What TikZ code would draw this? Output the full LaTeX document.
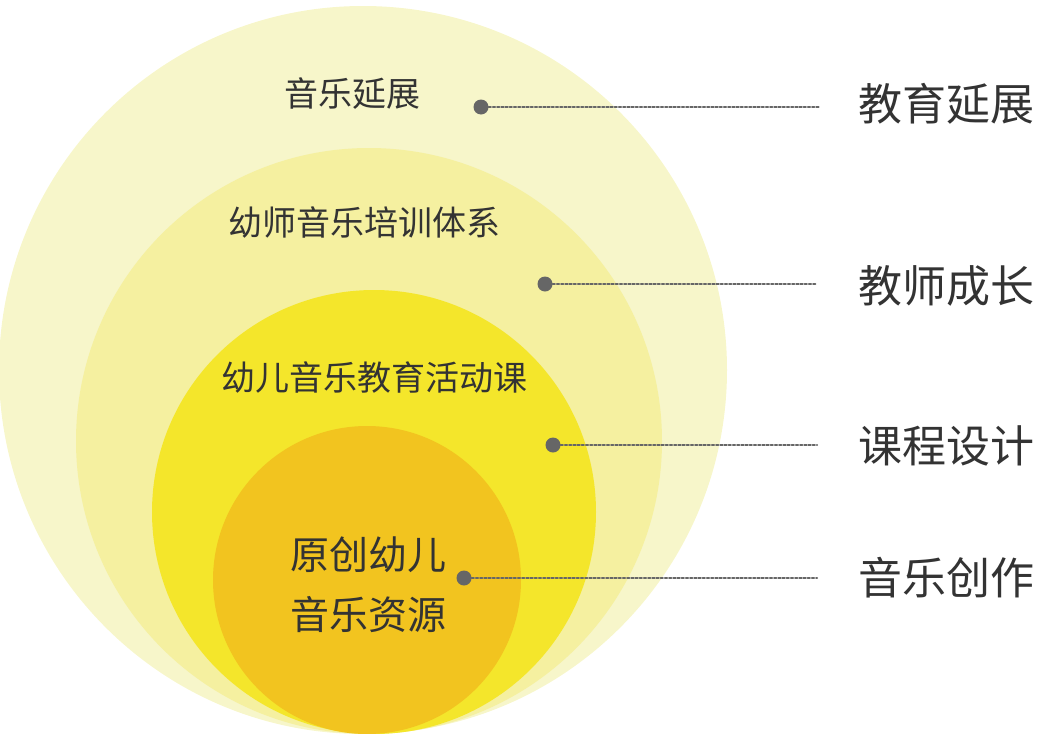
\documentclass[tikz,border=0pt]{standalone}
\usepackage{fontspec}
\setmainfont{Noto Sans CJK SC}
\begin{document}
\begin{tikzpicture}[x=1pt,y=-1pt,
  lab/.style={text=black!80,inner sep=0pt},
  big/.style={lab,anchor=west,font=\fontsize{44}{48}\selectfont},
  mid/.style={lab,font=\fontsize{34}{40}\selectfont},
  dot/.style={circle,fill=black!60,minimum size=15pt,inner sep=0pt},
  lead/.style={black!60,line width=2.2pt,dotted,line cap=round}]
\useasboundingbox (0,0) rectangle (1037,734);
\clip (0,0) rectangle (1037,734);
\definecolor{c1}{HTML}{F7F6CA}
\definecolor{c2}{HTML}{F5F0A0}
\definecolor{c3}{HTML}{F4E62B}
\definecolor{c4}{HTML}{F2C41F}
\fill[c1] (363,370) circle (364);
\fill[c2] (369,441) circle (293);
\fill[c3] (374,512) circle (222);
\fill[c4] (367,580) circle (154);
\node[mid] (t1) at (352,94) {音乐延展};
\node[mid] (t2) at (364,222) {幼师音乐培训体系};
\node[mid] (t3) at (374,377) {幼儿音乐教育活动课};
\node[lab,font=\fontsize{39}{60}\selectfont,align=center] (t4) at (368,585) {原创幼儿\\音乐资源};
\node[dot] (d1) at (481,107) {};
\node[dot] (d2) at (545,284) {};
\node[dot] (d3) at (553,445) {};
\node[dot] (d4) at (464,578) {};
\coordinate (e1) at (820,107);
\coordinate (e2) at (817,284);
\coordinate (e3) at (817,445);
\coordinate (e4) at (817,578);
\draw[lead] (d1) -- (e1); \draw[lead] (d2) -- (e2);
\draw[lead] (d3) -- (e3); \draw[lead] (d4) -- (e4);
\node[big] (l1) at (858,104) {教育延展};
\node[big] (l2) at (858,286) {教师成长};
\node[big] (l3) at (858,446) {课程设计};
\node[big] (l4) at (858,578) {音乐创作};
\end{tikzpicture}
\end{document}
